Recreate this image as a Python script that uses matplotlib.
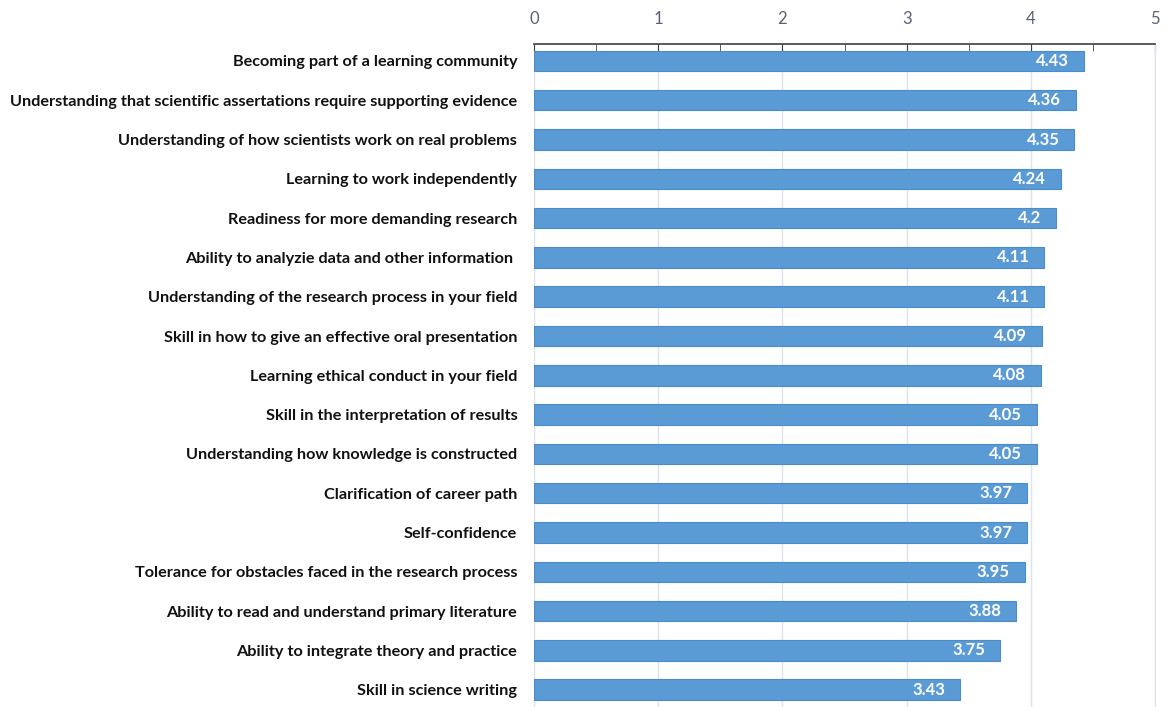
import matplotlib.pyplot as plt
from matplotlib.ticker import MultipleLocator

items = [
    'Becoming part of a learning community',
    'Understanding that scientific assertations require supporting evidence',
    'Understanding of how scientists work on real problems',
    'Learning to work independently',
    'Readiness for more demanding research',
    'Ability to analyzie data and other information ',
    'Understanding of the research process in your field',
    'Skill in how to give an effective oral presentation',
    'Learning ethical conduct in your field',
    'Skill in the interpretation of results',
    'Understanding how knowledge is constructed',
    'Clarification of career path',
    'Self-confidence',
    'Tolerance for obstacles faced in the research process',
    'Ability to read and understand primary literature',
    'Ability to integrate theory and practice',
    'Skill in science writing',
]
scores = [4.43, 4.36, 4.35, 4.24, 4.2, 4.11, 4.11, 4.09, 4.08, 4.05, 4.05,
          3.97, 3.97, 3.95, 3.88, 3.75, 3.43]
score_labels = ['4.43', '4.36', '4.35', '4.24', '4.2', '4.11', '4.11', '4.09', '4.08',
                '4.05', '4.05', '3.97', '3.97', '3.95', '3.88', '3.75', '3.43']

plt.rcParams['font.family'] = ['Lato', 'DejaVu Sans']

fig = plt.figure(figsize=(11.68, 7.07), dpi=100)
ax = fig.add_axes([534 / 1168, 0.0, (1155 - 534) / 1168, 1 - 44 / 707])

ypos = list(range(len(items)))
ax.barh(ypos, scores, height=0.52, color='#5B9BD5', edgecolor='#4A8BC9', linewidth=0.8, zorder=3)

# value labels sit inside the bar end
for y, s, lab in zip(ypos, scores, score_labels):
    ax.text(s - 0.12, y, lab, ha='right', va='center', color='white',
            fontsize=12, fontweight='bold', zorder=4)

ax.set_xlim(0, 5)
ax.set_ylim(16.44, -0.43)
ax.set_yticks(ypos)
ax.set_yticklabels(items, fontsize=11.7, fontweight='bold', color='#111111')

ax.xaxis.tick_top()
ax.xaxis.set_major_locator(MultipleLocator(1))
ax.xaxis.set_minor_locator(MultipleLocator(0.5))
ax.tick_params(axis='x', which='both', direction='in', colors='#404040', labelcolor='#596273',
               labelsize=12, pad=12)
ax.tick_params(axis='x', which='major', length=6)
ax.tick_params(axis='x', which='minor', length=5)
ax.tick_params(axis='y', length=0, pad=12)

ax.grid(axis='x', which='major', color='#DCE3EC', linewidth=1, zorder=0)
for side in ['left', 'bottom']:
    ax.spines[side].set_visible(False)
ax.spines['right'].set_color('#DCE3EC')
ax.spines['top'].set_color('#404040')
ax.spines['top'].set_linewidth(1.2)

fig.savefig('out.png', dpi=100)
